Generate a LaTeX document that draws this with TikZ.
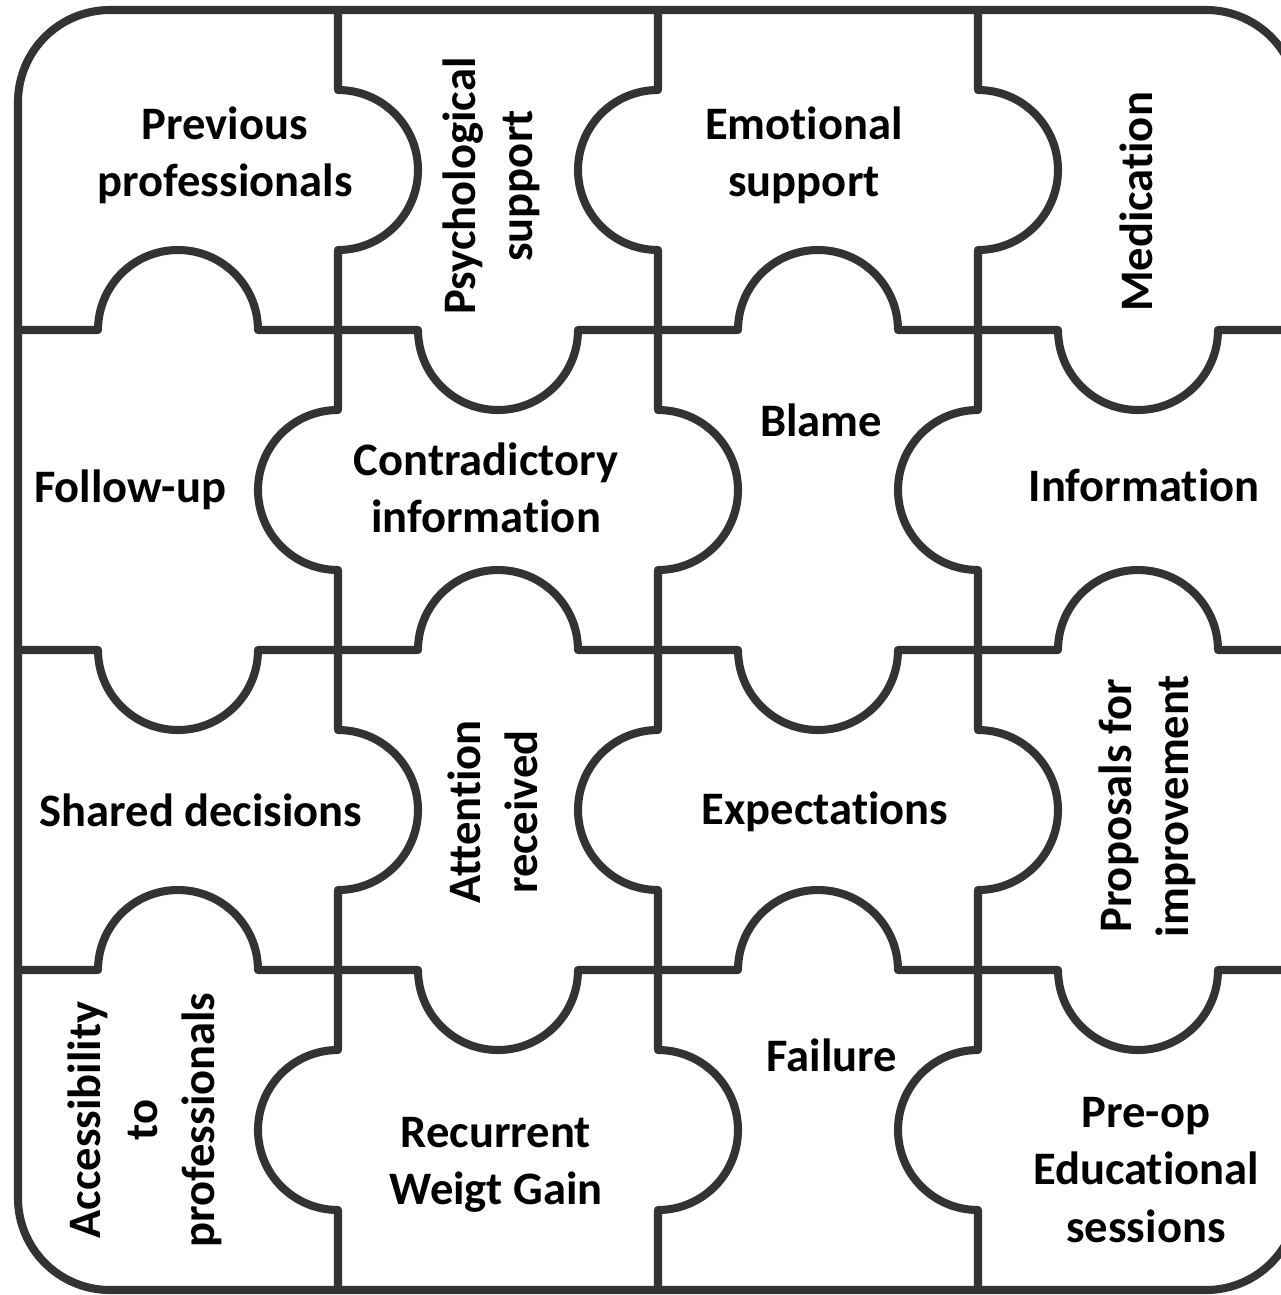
\documentclass[tikz,border=0pt]{standalone}
\usepackage{fontspec}
\setmainfont{Carlito}[Ligatures=NoCommon]
\usepackage{xcolor}
\definecolor{edgegray}{RGB}{51,51,51}

\begin{document}
\begin{tikzpicture}[x=0.02cm, y=-0.02cm,
    cut/.style={draw=edgegray, line width=4.6pt, line join=round},
    tag/.style={font=\bfseries\fontsize{26.5}{32.5}\selectfont, align=center, inner sep=0pt},
    vtag/.style={tag, rotate=90}]
    \useasboundingbox (0,0) rectangle (1281,1295);
    \clip (0,0) rectangle (1281,1295);

    % outer frame
    \draw[cut, rounded corners=1.84cm] (18,10) rectangle (1298,1290);

    % vertical cuts, bump +1 = right, -1 = left
    \foreach \x/\dirs in {338/{1,-1,1,-1}, 658/{-1,1,-1,1}, 978/{1,-1,1,-1}}
        \draw[cut] (\x,10) \foreach \d [count=\i from 0] in \dirs {
            -- (\x,{90+320*\i}) arc[start angle=270, end angle={270+180*(\d)}, radius=80]
        } -- (\x,1290);

    % horizontal cuts, bump +1 = down, -1 = up
    \foreach \y/\dirs in {330/{-1,1,-1,1}, 650/{1,-1,1,-1}, 970/{-1,1,-1,1}}
        \draw[cut] (18,\y) \foreach \d [count=\i from 0] in \dirs {
            -- ({98+320*\i},\y) arc[start angle=180, end angle={180-180*(\d)}, radius=80]
        } -- (1298,\y);

    % pieces
    \node[tag] (prevprof) at (225,155) {Previous\\professionals};
    \node[vtag] (psychsupp) at (491,186) {Psychological\\support};
    \node[tag] (emosupp) at (804,155) {Emotional\\support};
    \node[vtag] (medication) at (1136,202) {Medication};

    \node[tag] (followup) at (130,490) {Follow-up};
    \node[tag] (contrainfo) at (486,488) {Contradictory\\information};
    \node[tag] (blame) at (821,420) {Blame};
    \node[tag] (information) at (1144,485) {Information};

    \node[tag] (shareddec) at (201,810) {Shared decisions};
    \node[vtag] (attention) at (493,812) {Attention\\received};
    \node[tag] (expectations) at (825,812) {Expectations};
    \node[vtag] (proposals) at (1147,806) {Proposals for\\improvement};

    \node[vtag] (access) at (145,1120) {Accessibility\\to\\professionals};
    \node[tag] (weightgain) at (496,1165) {Recurrent\\Weigt Gain};
    \node[tag] (failure) at (832,1055) {Failure};
    \node[tag] (preop) at (1146,1170) {Pre-op\\Educational\\sessions};
\end{tikzpicture}
\end{document}
